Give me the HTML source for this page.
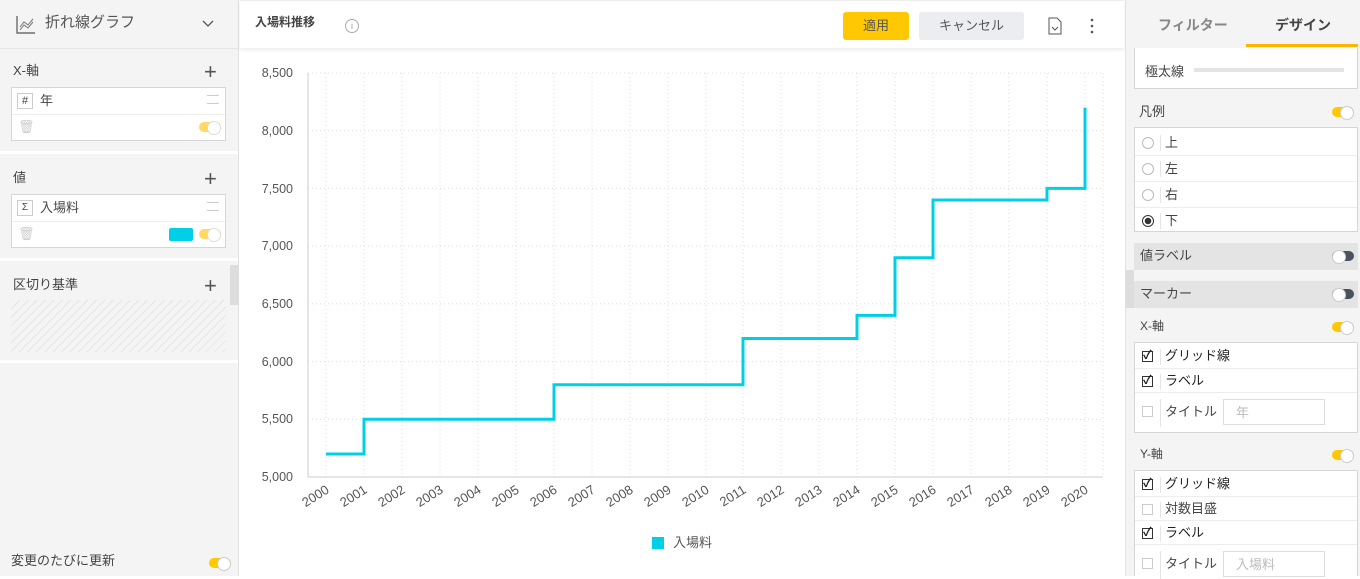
<!DOCTYPE html>
<html><head><meta charset="utf-8">
<style>
*{box-sizing:border-box;margin:0;padding:0}
body{width:1360px;height:576px;overflow:hidden;font-family:"Liberation Sans","Noto Sans CJK JP",sans-serif;color:#444;background:#fff;position:relative;font-size:13px;line-height:1.1}
.abs{position:absolute}
.lp{left:0;top:0;width:239px;height:576px;background:#f4f4f4;border-right:1px solid #e2e2e2}
.rp{left:1125px;top:0;width:235px;height:576px;background:#f4f4f4;border-left:1px solid #e2e2e2}
.box{position:absolute;background:#fff;border:1px solid #d6d6d6}
.tg{position:absolute;width:22px;height:10px;border-radius:5px;background:#ffc800}
.tg::after{content:"";position:absolute;right:0;top:-1px;width:12px;height:12px;border-radius:50%;background:#fff;border:1px solid #ccc}
.tgo{background:#4a5260}
.tgo::after{left:0;right:auto}
.tl{position:absolute;width:22px;height:10px;border-radius:5px;background:#ffd866}
.tl::after{content:"";position:absolute;right:0;top:-1px;width:12px;height:12px;border-radius:50%;background:#fff;border:1px solid #ddd}
.plus{position:absolute;font-size:22px;color:#555;font-weight:300}
.cb{position:absolute;width:11px;height:11px;border:1px solid #999;background:#fff}
.cb.on{border-color:#333}
.cb.on::after{content:"✓";position:absolute;left:0px;top:-3px;font-size:12px;color:#222;font-weight:bold}
.rad{position:absolute;width:12px;height:12px;border-radius:50%;border:1px solid #bbb;background:#fff}
.sep{position:absolute;width:1px;height:16px;background:#e4e4e4}
.row{position:absolute;left:0;right:0;height:1px;background:#eee}
</style></head><body>
<!-- left -->
<div class="abs lp">
  <svg class="abs" style="left:16px;top:15px" width="20" height="20"><path d="M1 1v17h18" stroke="#555" fill="none" stroke-width="1.2"/><path d="M4 12l4-5 4 3 5-6M4 15l4-5 4 3 5-6" stroke="#777" fill="none" stroke-width="1"/></svg>
  <div class="abs" style="left:45px;top:15px;font-size:15px;color:#555">折れ線グラフ</div>
  <svg class="abs" style="left:202px;top:20px" width="12" height="8"><path d="M1 1l5 5 5-5" stroke="#555" fill="none" stroke-width="1.3"/></svg>
  <div class="abs" style="left:0;top:48px;width:238px;height:1px;background:#e4e4e4"></div>
  <div class="abs" style="left:13px;top:64px;font-size:13px">X-軸</div>
  <div class="plus" style="left:204px;top:60px">+</div>
  <div class="box" style="left:11px;top:87px;width:215px;height:54px">
    <div class="abs" style="left:5px;top:5px;width:16px;height:16px;border:1px solid #ccc;font-size:11px;text-align:center;line-height:14px">#</div>
    <div class="abs" style="left:28px;top:6px">年</div>
    <div class="abs" style="left:195px;top:7px;width:12px;height:9px;border-top:1px solid #ccc;border-bottom:1px solid #ccc"></div>
    <div class="row" style="top:26px"></div>
    <div class="abs" style="left:6px;top:32px;color:#ccc">🗑</div>
    <div class="tl" style="left:187px;top:34px"></div>
  </div>
  <div class="abs" style="left:0;top:151px;width:238px;height:3px;background:#fff"></div>
  <div class="abs" style="left:13px;top:171px;font-size:13px">値</div>
  <div class="plus" style="left:204px;top:167px">+</div>
  <div class="box" style="left:11px;top:194px;width:215px;height:54px">
    <div class="abs" style="left:5px;top:5px;width:16px;height:16px;border:1px solid #ccc;font-size:10px;text-align:center;line-height:14px">Σ</div>
    <div class="abs" style="left:28px;top:6px">入場料</div>
    <div class="abs" style="left:195px;top:7px;width:12px;height:9px;border-top:1px solid #ccc;border-bottom:1px solid #ccc"></div>
    <div class="row" style="top:26px"></div>
    <div class="abs" style="left:6px;top:32px;color:#ccc">🗑</div>
    <div class="abs" style="left:157px;top:33px;width:24px;height:13px;background:#00d0e6;border-radius:2px"></div>
    <div class="tl" style="left:187px;top:34px"></div>
  </div>
  <div class="abs" style="left:0;top:258px;width:238px;height:3px;background:#fff"></div>
  <div class="abs" style="left:13px;top:278px;font-size:13px">区切り基準</div>
  <div class="plus" style="left:204px;top:274px">+</div>
  <div class="abs" style="left:11px;top:300px;width:215px;height:52px;background:repeating-linear-gradient(135deg,#e6e6e6 0 1px,#f4f4f4 1px 6px)"></div>
  <div class="abs" style="left:0;top:360px;width:238px;height:3px;background:#fff"></div>
  <div class="abs" style="left:230px;top:265px;width:9px;height:40px;background:#ddd"></div>
  <div class="abs" style="left:11px;top:554px;font-size:13px">変更のたびに更新</div>
  <div class="tg" style="left:209px;top:558px"></div>
</div>
<!-- header -->
<div class="abs" style="left:240px;top:0;width:884px;height:48px;background:#fff;box-shadow:0 2px 4px rgba(0,0,0,.08);border-top:1px solid #eee">
  <div class="abs" style="left:15px;top:15px;font-size:12px;font-weight:bold;color:#444">入場料推移</div>
  <div class="abs" style="left:105px;top:18px;width:14px;height:14px;border:1px solid #aaa;border-radius:50%;font-size:9px;text-align:center;line-height:12px;color:#999">i</div>
  <div class="abs" style="left:603px;top:11px;width:66px;height:28px;background:#ffc800;border-radius:3px;text-align:center;line-height:28px;font-size:13px;color:#555">適用</div>
  <div class="abs" style="left:679px;top:11px;width:105px;height:28px;background:#ebedf0;border-radius:3px;text-align:center;line-height:28px;font-size:13px;color:#555">キャンセル</div>
  <svg class="abs" style="left:808px;top:16px" width="14" height="18"><path d="M1 1h8l4 4v12H1z" fill="none" stroke="#555"/><path d="M4 10l3 3 3-3" fill="none" stroke="#555"/></svg>
  <svg class="abs" style="left:850px;top:17px" width="4" height="16"><circle cx="2" cy="2" r="1.3" fill="#555"/><circle cx="2" cy="8" r="1.3" fill="#555"/><circle cx="2" cy="14" r="1.3" fill="#555"/></svg>
</div>
<!-- chart -->
<svg class="abs" style="left:240px;top:48px" width="884" height="528">
<g font-family="Liberation Sans, sans-serif" font-size="12.5" fill="#555">
<g stroke="#dcdcdc" stroke-dasharray="1,3" stroke-width="1">
<line x1="68" x2="863" y1="25" y2="25"/><line x1="68" x2="863" y1="82.7" y2="82.7"/><line x1="68" x2="863" y1="140.4" y2="140.4"/><line x1="68" x2="863" y1="198.1" y2="198.1"/><line x1="68" x2="863" y1="255.9" y2="255.9"/><line x1="68" x2="863" y1="313.6" y2="313.6"/><line x1="68" x2="863" y1="371.3" y2="371.3"/>
<line x1="86" x2="86" y1="25" y2="429"/><line x1="124" x2="124" y1="25" y2="429"/><line x1="162" x2="162" y1="25" y2="429"/><line x1="200" x2="200" y1="25" y2="429"/><line x1="238" x2="238" y1="25" y2="429"/><line x1="276" x2="276" y1="25" y2="429"/><line x1="314" x2="314" y1="25" y2="429"/><line x1="352" x2="352" y1="25" y2="429"/><line x1="390" x2="390" y1="25" y2="429"/><line x1="428" x2="428" y1="25" y2="429"/><line x1="466" x2="466" y1="25" y2="429"/><line x1="503" x2="503" y1="25" y2="429"/><line x1="541" x2="541" y1="25" y2="429"/><line x1="579" x2="579" y1="25" y2="429"/><line x1="617" x2="617" y1="25" y2="429"/><line x1="655" x2="655" y1="25" y2="429"/><line x1="693" x2="693" y1="25" y2="429"/><line x1="731" x2="731" y1="25" y2="429"/><line x1="769" x2="769" y1="25" y2="429"/><line x1="807" x2="807" y1="25" y2="429"/><line x1="845" x2="845" y1="25" y2="429"/><line x1="863" x2="863" y1="25" y2="429"/>
</g>
<line x1="68" x2="68" y1="25" y2="429" stroke="#ccc"/>
<line x1="68" x2="863" y1="429" y2="429" stroke="#ccc"/>
<g text-anchor="end">
<text x="53" y="29">8,500</text><text x="53" y="87">8,000</text><text x="53" y="145">7,500</text><text x="53" y="202">7,000</text><text x="53" y="260">6,500</text><text x="53" y="318">6,000</text><text x="53" y="375">5,500</text><text x="53" y="433">5,000</text>
</g>
<g text-anchor="end" font-size="13">
<text transform="translate(90,444) rotate(-32)">2000</text><text transform="translate(128,444) rotate(-32)">2001</text><text transform="translate(166,444) rotate(-32)">2002</text><text transform="translate(204,444) rotate(-32)">2003</text><text transform="translate(242,444) rotate(-32)">2004</text><text transform="translate(280,444) rotate(-32)">2005</text><text transform="translate(318,444) rotate(-32)">2006</text><text transform="translate(356,444) rotate(-32)">2007</text><text transform="translate(394,444) rotate(-32)">2008</text><text transform="translate(432,444) rotate(-32)">2009</text><text transform="translate(470,444) rotate(-32)">2010</text><text transform="translate(507,444) rotate(-32)">2011</text><text transform="translate(545,444) rotate(-32)">2012</text><text transform="translate(583,444) rotate(-32)">2013</text><text transform="translate(621,444) rotate(-32)">2014</text><text transform="translate(659,444) rotate(-32)">2015</text><text transform="translate(697,444) rotate(-32)">2016</text><text transform="translate(735,444) rotate(-32)">2017</text><text transform="translate(773,444) rotate(-32)">2018</text><text transform="translate(811,444) rotate(-32)">2019</text><text transform="translate(849,444) rotate(-32)">2020</text>
</g>
<path d="M86 406 H124 V371.3 H314 V336.7 H503 V290.5 H617 V267.4 H655 V209.7 H693 V152 H807 V140.4 H845 V59.6" fill="none" stroke="#00d0e6" stroke-width="3"/>
<rect x="412" y="489" width="12" height="12" fill="#00d0e6"/>
<text x="433" y="499" font-family="Liberation Sans, Noto Sans CJK JP, sans-serif" font-size="13">入場料</text>
</g>
</svg>
<!-- right -->
<div class="abs rp">
  <div class="abs" style="left:32px;top:18px;font-size:14px;color:#888;font-weight:bold">フィルター</div>
  <div class="abs" style="left:149px;top:18px;font-size:14px;color:#444;font-weight:bold">デザイン</div>
  <div class="abs" style="left:120px;top:44px;width:112px;height:3px;background:#ffb400"></div>
  <div class="box" style="left:8px;top:48px;width:224px;height:41px;border-top:none"><div class="abs" style="left:10px;top:17px">極太線</div><div class="abs" style="left:59px;top:20px;width:150px;height:4px;background:#e4e4e4"></div></div>
  <div class="abs" style="left:13px;top:105px">凡例</div>
  <div class="tg" style="left:206px;top:107px"></div>
  <div class="box" style="left:8px;top:127px;width:224px;height:105px">
    <div class="rad" style="left:7px;top:9px"></div><div class="sep" style="left:25px;top:7px"></div><div class="abs" style="left:30px;top:8px">上</div>
    <div class="row" style="top:27px"></div>
    <div class="rad" style="left:7px;top:35px"></div><div class="sep" style="left:25px;top:33px"></div><div class="abs" style="left:30px;top:34px">左</div>
    <div class="row" style="top:53px"></div>
    <div class="rad" style="left:7px;top:61px"></div><div class="sep" style="left:25px;top:59px"></div><div class="abs" style="left:30px;top:60px">右</div>
    <div class="row" style="top:79px"></div>
    <div class="rad" style="left:7px;top:87px;border-color:#333;background:radial-gradient(#333 3px,#fff 3.5px)"></div><div class="sep" style="left:25px;top:85px"></div><div class="abs" style="left:30px;top:86px">下</div>
  </div>
  <div class="abs" style="left:8px;top:243px;width:224px;height:27px;background:#e4e4e4"><div class="abs" style="left:6px;top:6px">値ラベル</div><div class="tg tgo" style="left:198px;top:8px"></div></div>
  <div class="abs" style="left:8px;top:281px;width:224px;height:27px;background:#e4e4e4"><div class="abs" style="left:6px;top:6px">マーカー</div><div class="tg tgo" style="left:198px;top:8px"></div></div>
  <div class="abs" style="left:0;top:270px;width:8px;height:38px;background:#ddd"></div>
  <div class="abs" style="left:14px;top:320px;font-size:12px">X-軸</div>
  <div class="tg" style="left:206px;top:322px"></div>
  <div class="box" style="left:8px;top:342px;width:224px;height:91px">
    <div class="cb on" style="left:7px;top:8px"></div><div class="sep" style="left:25px;top:6px"></div><div class="abs" style="left:30px;top:6px;color:#222">グリッド線</div>
    <div class="row" style="top:25px"></div>
    <div class="cb on" style="left:7px;top:33px"></div><div class="sep" style="left:25px;top:31px"></div><div class="abs" style="left:30px;top:31px;color:#222">ラベル</div>
    <div class="row" style="top:49px"></div>
    <div class="cb" style="left:7px;top:63px;border-color:#ccc"></div><div class="sep" style="left:25px;top:56px;height:28px"></div><div class="abs" style="left:30px;top:62px">タイトル</div>
    <div class="abs" style="left:88px;top:56px;width:102px;height:26px;border:1px solid #ddd"><span class="abs" style="left:12px;top:6px;color:#bbb">年</span></div>
  </div>
  <div class="abs" style="left:14px;top:448px;font-size:12px">Y-軸</div>
  <div class="tg" style="left:206px;top:450px"></div>
  <div class="box" style="left:8px;top:470px;width:224px;height:106px;border-bottom:none">
    <div class="cb on" style="left:7px;top:8px"></div><div class="sep" style="left:25px;top:6px"></div><div class="abs" style="left:30px;top:6px;color:#222">グリッド線</div>
    <div class="row" style="top:25px"></div>
    <div class="cb" style="left:7px;top:33px;border-color:#ccc"></div><div class="sep" style="left:25px;top:31px"></div><div class="abs" style="left:30px;top:31px">対数目盛</div>
    <div class="row" style="top:49px"></div>
    <div class="cb on" style="left:7px;top:57px"></div><div class="sep" style="left:25px;top:55px"></div><div class="abs" style="left:30px;top:55px;color:#222">ラベル</div>
    <div class="row" style="top:73px"></div>
    <div class="cb" style="left:7px;top:87px;border-color:#ccc"></div><div class="sep" style="left:25px;top:80px;height:28px"></div><div class="abs" style="left:30px;top:86px">タイトル</div>
    <div class="abs" style="left:88px;top:80px;width:102px;height:26px;border:1px solid #ddd"><span class="abs" style="left:12px;top:6px;color:#bbb">入場料</span></div>
  </div>
</div>
</body></html>
